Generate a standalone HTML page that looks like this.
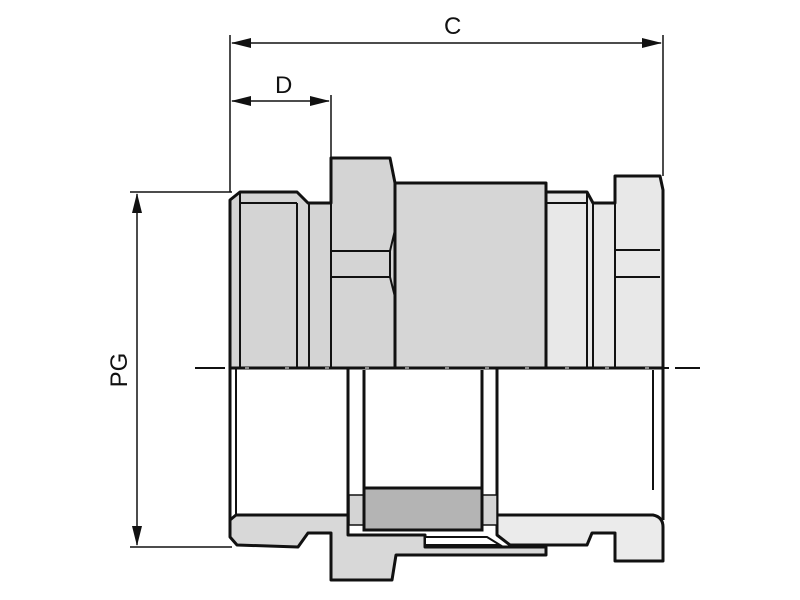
<!DOCTYPE html>
<html><head><meta charset="utf-8"><style>
html,body{margin:0;padding:0;background:#fff;width:800px;height:600px;overflow:hidden}
svg{display:block}
text{font-family:"Liberation Sans",sans-serif;font-size:24px;fill:#111}
</style></head><body>
<svg width="800" height="600" viewBox="0 0 800 600" xmlns="http://www.w3.org/2000/svg">
<g stroke="#111" stroke-width="1.5" fill="none">
<line x1="230" y1="35" x2="230" y2="192"/>
<line x1="331" y1="95" x2="331" y2="158"/>
<line x1="663" y1="35" x2="663" y2="176"/>
<line x1="130" y1="192" x2="232" y2="192"/>
<line x1="130" y1="547" x2="232" y2="547"/>
<line x1="232" y1="43" x2="661" y2="43"/>
<line x1="232" y1="101" x2="329" y2="101"/>
<line x1="137" y1="194" x2="137" y2="545"/>
</g>
<g fill="#111">
<polygon points="231,43 251,38 251,48"/>
<polygon points="662,43 642,38 642,48"/>
<polygon points="231,101 251,96 251,106"/>
<polygon points="330,101 310,96 310,106"/>
<polygon points="137,193 132,213 142,213"/>
<polygon points="137,546 132,526 142,526"/>
</g>
<text x="444" y="34">C</text>
<text x="275" y="93">D</text>
<text transform="translate(127,370) rotate(-90)" text-anchor="middle">PG</text>

<g stroke="#111" stroke-width="3" stroke-linejoin="round">
<path d="M230,368 L230,200 L240,192 L297,192 L308,203 L331,203 L331,158 L390,158 L395,183 L395,368 Z" fill="#d4d4d4"/>
<path d="M395,368 L395,183 L546,183 L546,368 Z" fill="#d6d6d6"/>
<path d="M546,368 L546,192 L587,192 L593,203 L615,203 L615,176 L660,176 L663,190 L663,368 Z" fill="#e8e8e8"/>
<path d="M230,520 L230,537 L237,545 L298,547 L308,533 L331,533 L331,580 L392,580 L396,555 L546,555 L546,547 L425,547 L425,535 L348,535 L348,515 L236,515 Z" fill="#d8d8d8"/>
<path d="M497,515 L653,515 Q663,517 663,527 L663,561 L615,561 L615,533 L592,533 L587,545 L510,545 L497,535 Z" fill="#ebebeb"/>
</g>
<g stroke="#111" stroke-width="2" fill="none">
<line x1="240" y1="192" x2="240" y2="368"/>
<line x1="297" y1="203" x2="297" y2="368"/>
<line x1="309" y1="203" x2="309" y2="368"/>
<line x1="240" y1="203" x2="297" y2="203"/>
<line x1="331" y1="203" x2="331" y2="368"/>
<line x1="331" y1="251" x2="390" y2="251"/>
<line x1="331" y1="277" x2="390" y2="277"/>
<path d="M395,230 L390,251 L390,277 L395,297"/>
<line x1="587" y1="192" x2="587" y2="368"/>
<line x1="593" y1="203" x2="593" y2="368"/>
<line x1="546" y1="203" x2="587" y2="203"/>
<line x1="615" y1="203" x2="615" y2="368"/>
<line x1="615" y1="250" x2="660" y2="250"/>
<line x1="615" y1="277" x2="660" y2="277"/>
<line x1="230" y1="368" x2="230" y2="520" stroke-width="3"/>
<line x1="236" y1="368" x2="236" y2="515"/>
<line x1="663" y1="368" x2="663" y2="520" stroke-width="3"/>
<line x1="653" y1="370" x2="653" y2="490"/>
<line x1="348" y1="368" x2="348" y2="530" stroke-width="3"/>
<line x1="364" y1="370" x2="364" y2="490" stroke-width="3"/>
<line x1="482" y1="370" x2="482" y2="490" stroke-width="3"/>
<line x1="497" y1="368" x2="497" y2="530" stroke-width="3"/>
</g>
<rect x="349" y="495" width="15" height="30" fill="#d4d4d4" stroke="#111" stroke-width="1.5"/>
<rect x="482" y="495" width="15" height="30" fill="#d4d4d4" stroke="#111" stroke-width="1.5"/>
<rect x="364" y="488" width="118" height="42" fill="#b4b4b4" stroke="#111" stroke-width="3"/>
<path d="M425,537 L487,537 L500,545 L425,545 Z" fill="#fff" stroke="#111" stroke-width="2"/>
<line x1="195" y1="368" x2="700" y2="368" stroke="#111" stroke-width="2" stroke-dasharray="30,6,6,6"/>
<line x1="245" y1="368" x2="655" y2="368" stroke="#fff" stroke-width="1" stroke-dasharray="4,36"/>
</svg>
</body></html>
